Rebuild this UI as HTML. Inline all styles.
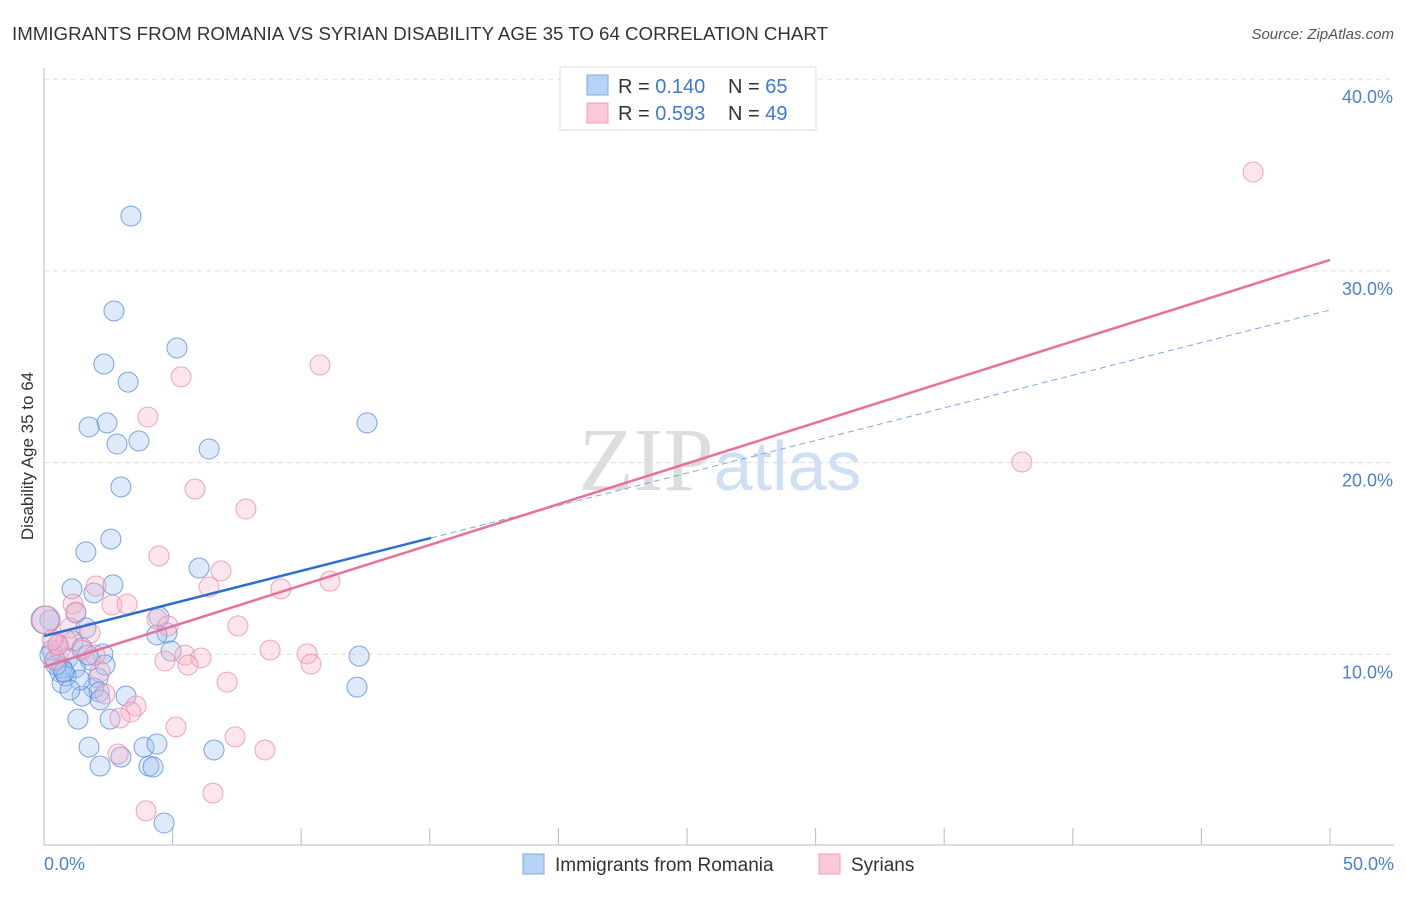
<!DOCTYPE html>
<html><head><meta charset="utf-8"><style>
body{margin:0;background:#fff;font-family:"Liberation Sans",sans-serif;}
</style></head><body>
<svg id="chart" width="1406" height="892" xmlns="http://www.w3.org/2000/svg" style="font-family:'Liberation Sans',sans-serif">
<text x="12" y="40" font-size="18" fill="#333" textLength="816" lengthAdjust="spacingAndGlyphs">IMMIGRANTS FROM ROMANIA VS SYRIAN DISABILITY AGE 35 TO 64 CORRELATION CHART</text>
<text x="1394" y="39" font-size="15" fill="#555" text-anchor="end" font-style="italic">Source: ZipAtlas.com</text>
<text x="720" y="490" font-size="90" text-anchor="middle" fill="#ddd" font-family="Liberation Serif">ZIP<tspan fill="#cfe0f5" font-family="Liberation Sans" font-size="70">atlas</tspan></text>
<text transform="translate(33,456) rotate(-90)" font-size="17" fill="#333" text-anchor="middle">Disability Age 35 to 64</text>
<g id="grid"></g><g id="marks"></g><g id="lines"></g>
<g>
<rect x="560" y="67" width="256" height="63" fill="#fff" stroke="#ddd"/>
<rect x="587" y="75" width="21" height="20" fill="#b7d2f5" stroke="#7fa8e0"/>
<rect x="587" y="103" width="21" height="20" fill="#fac8d7" stroke="#ee9db6"/>
<text x="618" y="93" font-size="20" fill="#333">R = <tspan fill="#3d78d8">0.140</tspan><tspan x="728">N = </tspan><tspan fill="#3d78d8">65</tspan></text>
<text x="618" y="120" font-size="20" fill="#333">R = <tspan fill="#3d78d8">0.593</tspan><tspan x="728">N = </tspan><tspan fill="#3d78d8">49</tspan></text>
</g>
<g>
<rect x="523" y="854" width="21" height="20" fill="#b7d2f5" stroke="#7fa8e0"/>
<text x="555" y="871" font-size="19" fill="#333">Immigrants from Romania</text>
<rect x="819" y="854" width="21" height="20" fill="#fac8d7" stroke="#ee9db6"/>
<text x="851" y="871" font-size="19" fill="#333">Syrians</text>
</g>
</svg>
<script>
const yTicks=[10,20,30,40];
const yTickLabels=["10.0%","20.0%","30.0%","40.0%"];
const xTickLabels=["0.0%","50.0%"];
const blueX=[3.38,2.72,5.17,2.33,3.27,2.45,1.75,3.69,2.84,6.42,12.56,2.99,2.60,1.63,6.03,2.68,1.09,1.94,1.24,4.47,1.63,4.78,4.39,1.13,0.23,1.48,2.29,4.94,0.43,0.93,1.79,0.62,1.21,2.10,0.70,1.94,2.14,1.48,3.19,12.25,12.17,1.32,2.57,1.75,3.89,4.39,2.18,2.99,4.08,4.24,6.61,4.67,0.70,0.86,0.31,0.04,0.47,1.40,2.37,1.01,0.78,0.23,0.54,2.18,1.71];
const blueY=[32.86,27.91,25.98,25.14,24.20,22.07,21.86,21.13,20.97,20.71,22.07,18.73,16.01,15.34,14.50,13.62,13.41,13.20,12.15,11.95,11.37,11.11,11.01,10.69,11.79,10.33,10.02,10.17,9.70,9.81,9.70,9.08,9.29,8.76,8.50,8.24,8.03,7.82,7.82,9.91,8.29,6.62,6.62,5.16,5.16,5.32,4.17,4.64,4.17,4.12,5.01,1.20,9.29,8.87,10.22,11.79,9.44,8.66,9.44,8.14,9.08,9.96,10.49,7.62,9.96];
const pinkX=[47.01,10.73,5.33,4.04,5.87,7.85,4.47,6.88,2.02,6.42,9.21,11.12,1.13,2.64,3.23,1.24,4.39,4.82,7.54,1.79,1.01,0.08,8.79,5.48,6.10,10.23,4.70,5.60,10.38,2.18,7.12,2.37,3.58,3.38,2.95,5.13,7.43,8.59,2.88,3.97,6.57,38.02,0.62,0.43,1.48,0.86,1.98,0.54,0.31];
const pinkY=[35.16,25.09,24.47,22.38,18.62,17.58,15.13,14.35,13.56,13.51,13.41,13.82,12.62,12.57,12.62,12.21,11.84,11.48,11.48,11.11,11.37,11.79,10.22,9.96,9.81,10.02,9.65,9.44,9.49,9.08,8.55,7.93,7.30,6.99,6.68,6.21,5.69,5.01,4.80,1.83,2.76,20.03,10.22,9.70,10.22,10.75,9.96,10.49,10.75];
const blueTrend=[[0,10.95],[15.05,16.07]];
const blueTrendExt=[[15.05,16.07],[50,27.96]];
const pinkTrend=[[0,9.34],[50,30.57]];
const NS="http://www.w3.org/2000/svg";
const X=v=>44+v/50*1286, Y=v=>846-v*19.17;
function mk(tag,attrs,parent){const e=document.createElementNS(NS,tag);for(const k in attrs)e.setAttribute(k,attrs[k]);parent.appendChild(e);return e;}
const grid=document.getElementById('grid'),marks=document.getElementById('marks'),lines=document.getElementById('lines');
yTicks.forEach((t,i)=>{
 const l=mk('line',{x1:44,x2:1394,y1:Y(t),y2:Y(t),stroke:'#ddd','stroke-dasharray':'5,4'},grid);
 
 
 const tx=mk('text',{x:1393,y:Y(t)+24,'font-size':18,fill:'#4a80d8','text-anchor':'end'},grid);
 tx.textContent=yTickLabels[i];
 
 
});
const ax=mk('line',{x1:44,x2:44,y1:68,y2:845,stroke:'#bbb'},grid);


const bx=mk('line',{x1:44,x2:1394,y1:845,y2:845,stroke:'#bbb'},grid);


for(let i=0;i<=10;i++){
 const t=mk('line',{x1:X(i*5),x2:X(i*5),y1:828,y2:845,stroke:'#bbb'},grid);
 
 
}
[[0,'start',44],[50,'end',1394]].forEach((d,i)=>{
 const tx=mk('text',{x:d[2],y:870,'font-size':18,fill:'#4a80d8','text-anchor':d[1]},grid);
 tx.textContent=xTickLabels[i];
 
 
});
function dots(xs,ys,fill,stroke,name){xs.forEach((x,i)=>{
 const r=(x<0.1&&ys[i]>11)?14:10;
 const c=mk('circle',{cx:X(x),cy:Y(ys[i]),r:r,fill:fill,stroke:stroke,'stroke-width':1},marks);
 
 
});}
dots(blueX,blueY,'rgba(160,196,240,0.35)','rgba(70,130,215,0.7)','romania-point');
dots(pinkX,pinkY,'rgba(248,180,200,0.35)','rgba(232,130,165,0.7)','syrian-point');
function ln(p,stroke,w,dash,name){
 const l=mk('line',{x1:X(p[0][0]),y1:Y(p[0][1]),x2:X(p[1][0]),y2:Y(p[1][1]),stroke:stroke,'stroke-width':w},lines);
 if(dash)l.setAttribute('stroke-dasharray',dash);
 
 
}
ln(blueTrendExt,'#7fa8e0',1,'6,4','romania-trend-extension');
ln(pinkTrend,'#e8709a',2.5,null,'syrian-trend-line');
ln(blueTrend,'#2a6fd6',2.5,null,'romania-trend-line');
</script>
</body></html>
